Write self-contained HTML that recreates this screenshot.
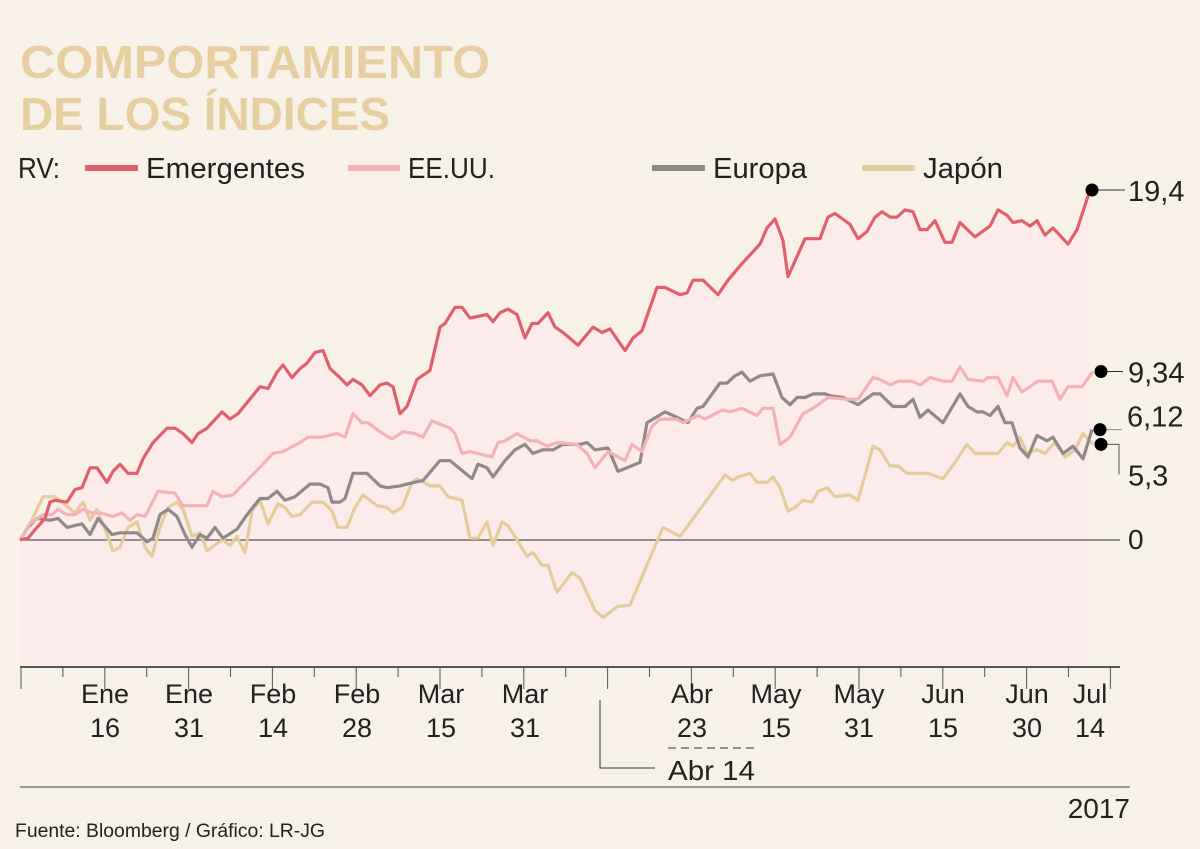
<!DOCTYPE html>
<html><head><meta charset="utf-8"><style>
html,body{margin:0;padding:0;background:#f7f1e7;}
svg{display:block;font-family:"Liberation Sans Narrow","Liberation Sans",sans-serif;}
</style></head><body>
<svg id="chart" width="1200" height="849" viewBox="0 0 1200 849" xmlns="http://www.w3.org/2000/svg">
<rect width="1200" height="849" fill="#f7f1e7"/>
<g font-family="Liberation Sans, sans-serif" font-weight="bold" fill="#e8cfa2" font-size="46">
<text x="20" y="78" textLength="470" lengthAdjust="spacingAndGlyphs">COMPORTAMIENTO</text>
<text x="20" y="130" textLength="370" lengthAdjust="spacingAndGlyphs">DE LOS ÍNDICES</text>
</g>
<g font-size="29" fill="#222">
<text x="18" y="178" textLength="42" lengthAdjust="spacingAndGlyphs">RV:</text>
<line x1="85" y1="168" x2="138" y2="168" stroke="#e0606e" stroke-width="6"/>
<text x="146" y="178" textLength="159" lengthAdjust="spacingAndGlyphs">Emergentes</text>
<line x1="348" y1="168" x2="400" y2="168" stroke="#f2b2b6" stroke-width="6"/>
<text x="408" y="178" textLength="87" lengthAdjust="spacingAndGlyphs">EE.UU.</text>
<line x1="652" y1="168" x2="705" y2="168" stroke="#8f8a87" stroke-width="6"/>
<text x="713" y="178" textLength="94" lengthAdjust="spacingAndGlyphs">Europa</text>
<line x1="862" y1="168" x2="915" y2="168" stroke="#e6cc9c" stroke-width="6"/>
<text x="923" y="178" textLength="80" lengthAdjust="spacingAndGlyphs">Japón</text>
</g>
<g id="plot"></g>
<g id="axis"></g>
<g>
<polyline points="600,700 600,768 655,768" fill="none" stroke="#333" stroke-width="1"/>
<line x1="668" y1="748" x2="755" y2="748" stroke="#333" stroke-width="1" stroke-dasharray="8,5"/>
<text x="668" y="780" font-size="28" fill="#222" textLength="87" lengthAdjust="spacingAndGlyphs">Abr 14</text>
</g>
<line x1="20" y1="787" x2="1130" y2="787" stroke="#999" stroke-width="2"/>
<text x="1130" y="818" text-anchor="end" font-size="28" fill="#222">2017</text>
<text x="15" y="837" font-size="19" fill="#222" textLength="310" lengthAdjust="spacingAndGlyphs">Fuente: Bloomberg / Gráfico: LR-JG</text>
</svg>
<script>
// Session index (0 = first session of the year, ~1070 = mid July) and % change
const emDays=[0,8,17,25,30,35,47,55,62,70,77,87,93,100,108,117,123,133,147,155,163,172,178,187,202,210,218,240,248,257,263,272,280,287,295,303,310,318,327,333,342,350,360,367,373,380,387,397,410,420,425,435,442,450,467,473,480,488,497,505,512,518,528,535,543,558,573,582,590,605,613,622,637,645,660,667,673,683,698,708,720,740,747,755,763,768,785,800,808,815,830,838,847,855,862,870,877,885,893,900,907,915,925,932,940,955,970,978,987,993,1002,1010,1017,1025,1033,1048,1057,1070];
const emVals=[0,0.1,0.7,1.2,2.1,2.2,2.1,2.8,2.9,4.0,4.0,3.2,3.8,4.2,3.7,3.7,4.5,5.4,6.2,6.2,5.9,5.4,5.9,6.2,7.1,6.7,7.0,8.5,8.4,9.3,9.7,9.0,9.5,9.8,10.4,10.5,9.5,9.1,8.6,8.9,8.6,8.0,8.6,8.7,8.5,7.0,7.4,8.9,9.4,11.8,12.0,12.9,12.9,12.3,12.5,12.1,12.6,12.8,12.5,11.2,12.0,12.0,12.6,11.8,11.5,10.8,11.8,11.5,11.7,10.5,11.2,11.6,14.0,14.0,13.6,13.7,14.4,14.4,13.6,14.4,15.2,16.4,17.3,17.8,16.6,14.6,16.7,16.7,17.9,18.1,17.5,16.7,17.1,17.9,18.2,17.9,17.9,18.3,18.2,17.2,17.2,17.7,16.5,16.5,17.6,16.8,17.4,18.3,18.0,17.6,17.7,17.4,17.7,16.9,17.3,16.4,17.2,19.4];
const usDays=[0,10,23,32,38,47,55,63,72,80,93,102,110,117,125,138,155,163,180,187,193,202,213,227,243,253,263,280,288,302,317,325,333,342,348,360,372,383,395,403,412,430,435,442,450,472,478,485,497,510,517,527,537,557,567,575,588,605,612,622,632,640,657,663,678,685,702,710,722,737,743,753,760,770,783,793,808,827,838,853,860,870,878,892,900,910,923,932,940,948,963,968,978,987,993,1002,1018,1032,1040,1048,1062,1073];
const usVals=[0,0.9,1.4,1.4,1.7,1.4,1.4,1.7,1.5,1.5,1.3,1.5,1.1,1.4,1.3,2.7,2.6,1.9,1.9,1.9,2.7,2.4,2.5,3.3,4.2,4.8,4.9,5.4,5.7,5.7,5.9,5.7,7.0,6.5,6.5,6.0,5.6,6.0,5.9,5.7,6.6,6.2,5.9,4.8,4.9,4.6,5.4,5.5,5.9,5.5,5.5,5.2,5.4,5.3,4.8,4.0,4.9,4.4,5.3,4.9,6.3,6.7,6.7,6.5,6.9,6.7,7.2,7.1,7.3,6.9,7.3,7.3,5.3,5.7,7.0,7.3,7.9,7.8,7.8,9.0,8.9,8.6,8.8,8.8,8.6,9.0,8.8,8.8,9.6,8.9,8.8,9.0,9.0,8.0,9.0,8.2,8.8,8.8,7.8,8.5,8.5,9.34];
const euDays=[0,8,17,30,38,47,62,70,78,92,100,117,127,133,140,148,157,165,172,180,187,195,203,217,227,240,248,257,265,275,290,300,308,312,320,325,333,347,360,367,380,387,403,420,430,452,458,467,473,485,495,505,513,523,533,543,560,567,575,588,598,620,627,645,657,668,677,683,700,707,715,722,730,740,753,762,770,777,785,793,805,810,823,838,853,860,873,885,893,900,908,923,940,948,957,963,970,978,985,992,1000,1008,1017,1027,1033,1043,1053,1063,1072];
const euVals=[0,0.7,1.2,1.1,1.2,0.7,0.9,0.3,1.2,0.3,0.4,0.4,-0.1,0.1,1.4,1.7,1.3,0.3,-0.4,0.3,0.1,0.7,0.1,0.6,1.4,2.3,2.3,2.7,2.2,2.4,3.1,3.1,2.9,2.1,2.1,2.3,3.7,3.7,3.0,2.9,3.0,3.1,3.3,4.4,4.4,3.4,4.2,4.0,3.5,4.4,5.0,5.3,4.8,5.0,5.0,5.3,5.3,5.4,5.0,5.1,3.8,4.3,6.5,7.1,6.8,6.5,7.3,7.4,8.7,8.7,9.1,9.3,8.8,9.1,9.2,7.9,7.5,7.9,7.9,8.1,8.1,8.0,7.9,7.5,8.1,8.1,7.4,7.4,7.8,6.8,7.2,6.5,8.1,7.4,7.1,7.1,6.9,7.4,6.5,6.5,5.1,4.6,5.8,5.5,5.7,4.8,5.2,4.5,6.12];
const jpDays=[0,10,23,35,42,55,63,70,77,83,93,100,108,117,125,132,140,148,157,163,172,180,187,197,203,210,217,225,232,240,248,258,265,272,280,292,303,312,318,327,335,343,357,367,373,382,392,397,410,420,428,442,450,458,467,473,482,488,507,513,522,528,537,552,560,575,583,597,610,643,650,660,705,713,718,730,737,747,753,760,768,775,783,792,798,807,815,830,838,843,853,860,870,878,887,908,923,935,947,955,978,987,993,1000,1007,1017,1025,1035,1045,1055,1063,1073];
const jpVals=[0,0.9,2.4,2.4,2.1,1.5,2.1,1.1,1.7,0.9,-0.6,-0.4,0.7,1.0,-0.4,-0.9,0.7,1.8,2.1,1.7,0.2,0.4,-0.6,-0.2,0,-0.3,0.2,-0.7,1.6,2.2,0.9,2.0,1.8,1.3,1.4,2.1,2.1,1.6,0.7,0.7,1.8,2.5,1.9,1.8,1.5,1.8,3.2,3.4,3.0,3.0,2.4,2.2,0.1,0.1,1.0,-0.3,1.0,0.8,-0.9,-0.7,-1.4,-1.4,-2.9,-1.8,-2.1,-3.9,-4.3,-3.7,-3.6,0.7,0.5,0.2,3.6,3.3,3.5,3.7,3.2,3.2,3.5,2.9,1.6,1.8,2.2,2.1,2.7,2.9,2.4,2.5,2.2,3.2,5.2,5.0,4.1,4.1,3.7,3.7,3.4,4.3,5.3,4.8,4.8,5.4,5.2,5.7,4.8,5.0,4.8,5.4,4.6,5.0,5.9,5.3];
const tickTop=["Ene","Ene","Feb","Feb","Mar","Mar","Abr","May","May","Jun","Jun","Jul"];
const tickBottom=["16","31","14","28","15","31","23","15","31","15","30","14"];
const tickDays=[85,169,253,337,421,505,672,756,839,923,1007,1070];
const endLabels=["19,4","9,34","6,12","5,3"];

const NS="http://www.w3.org/2000/svg";
const X0=20,X1=1090,D0=0,D1=1070;
const xs=d=>X0+(d-D0)*(X1-X0)/(D1-D0);
const ys=v=>540-v*18.04;
const plot=document.getElementById('plot');
const axis=document.getElementById('axis');
function mk(tag,attrs,parent){const e=document.createElementNS(NS,tag);for(const k in attrs)e.setAttribute(k,attrs[k]);parent.appendChild(e);return e;}

// area fill under emergentes
let d="M"+xs(emDays[0])+",665";
emDays.forEach((t,i)=>{d+=" L"+xs(t).toFixed(1)+","+ys(emVals[i]).toFixed(1);});
d+=" L"+xs(emDays[emDays.length-1]).toFixed(1)+",665 Z";
const area=mk('path',{d:d,fill:"#fcebeb"},plot);



const zl=mk('line',{x1:20,y1:ys(0),x2:1120,y2:ys(0),stroke:"#555","stroke-width":1.2},plot);


const zt=mk('text',{x:1128,y:ys(0)+9,"font-size":28,fill:"#222"},plot);zt.textContent="0";



function line(days,vals,color,name){
  const pts=days.map((t,i)=>xs(t).toFixed(1)+","+ys(vals[i]).toFixed(1)).join(" ");
  const p=mk('polyline',{points:pts,fill:"none",stroke:color,"stroke-width":3.2,"stroke-linejoin":"round"},plot);
  
  
}
line(jpDays,jpVals,"#e6cc9c","japon-line");
line(euDays,euVals,"#8f8a87","europa-line");
line(usDays,usVals,"#f2b2b6","eeuu-line");
line(emDays,emVals,"#e0606e","emergentes-line");

// end markers
const ends=[[emDays,emVals],[usDays,usVals],[euDays,euVals],[jpDays,jpVals]];
const endNames=["end-marker-emergentes","end-marker-eeuu","end-marker-europa","end-marker-japon"];
ends.forEach((s,i)=>{
  const n=s[0].length-1;const cx=xs(s[0][n])+(i===0?2:8);const cy=ys(s[1][n]);
  const g=mk('g',{},plot);
  
  
  if(i===3){mk('polyline',{points:`${cx},${cy} ${cx+18},${cy} ${cx+18},${cy+30}`,fill:"none",stroke:"#555","stroke-width":1},g);}
  else {mk('line',{x1:cx,y1:cy,x2:cx+(i===0?33:22),y2:cy,stroke:i===2?"#888":"#333","stroke-width":1},g);}
  mk('circle',{cx:cx,cy:cy,r:6.5,fill:"#000"},g);
  const tx=i===0?cx+36:cx+27;
  const ty=i===2?cy-3:(i===3?cy+41:cy+11);
  const t=mk('text',{x:tx,y:ty,"font-size":29,fill:"#222"},g);t.textContent=endLabels[i];
});

// axis
const ax=mk('line',{x1:20,y1:667,x2:1120,y2:667,stroke:"#222","stroke-width":1.5},axis);


for(let k=0;k<27;k++){
  const x=21+k*41.9;
  const tk=mk('line',{x1:x,y1:667,x2:x,y2:k%2===0?689:677,stroke:"#555","stroke-width":1},axis);
  
  
}
tickDays.forEach((t,i)=>{
  const x=xs(t);
  const g=mk('g',{"font-size":27,fill:"#222","text-anchor":"middle"},axis);
  
  
  const a=mk('text',{x:x,y:703},g);a.textContent=tickTop[i];
  const b=mk('text',{x:x,y:737},g);b.textContent=tickBottom[i];
});
</script>
</body></html>
